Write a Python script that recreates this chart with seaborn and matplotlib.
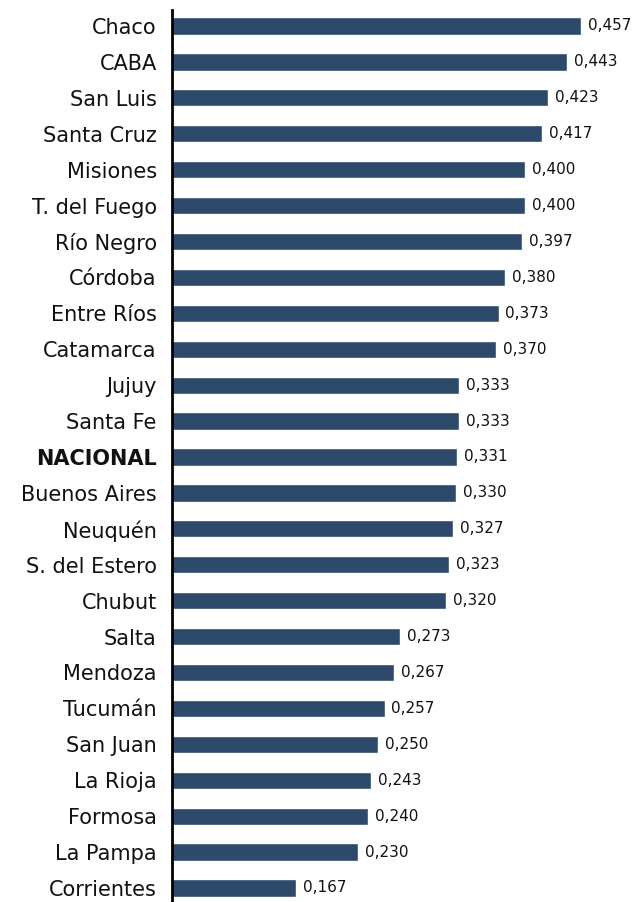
import matplotlib
matplotlib.use("Agg")
import matplotlib.pyplot as plt
import seaborn as sns
import pandas as pd

provincias = ["Chaco", "CABA", "San Luis", "Santa Cruz", "Misiones", "T. del Fuego",
              "Río Negro", "Córdoba", "Entre Ríos", "Catamarca", "Jujuy", "Santa Fe",
              "NACIONAL", "Buenos Aires", "Neuquén", "S. del Estero", "Chubut", "Salta",
              "Mendoza", "Tucumán", "San Juan", "La Rioja", "Formosa", "La Pampa", "Corrientes"]
valores = [0.457, 0.443, 0.423, 0.417, 0.400, 0.400, 0.397, 0.380, 0.373, 0.370,
           0.333, 0.333, 0.331, 0.330, 0.327, 0.323, 0.320, 0.273, 0.267, 0.257,
           0.250, 0.243, 0.240, 0.230, 0.167]
etiquetas = ["0,457", "0,443", "0,423", "0,417", "0,400", "0,400", "0,397", "0,380",
             "0,373", "0,370", "0,333", "0,333", "0,331", "0,330", "0,327", "0,323",
             "0,320", "0,273", "0,267", "0,257", "0,250", "0,243", "0,240", "0,230", "0,167"]

df = pd.DataFrame({"provincia": provincias, "valor": valores})

sns.set_style("white")
plt.rcParams["font.family"] = ["DejaVu Sans"]

W, H = 636, 902
fig = plt.figure(figsize=(W / 100, H / 100), dpi=100)
ax = fig.add_axes([172 / W, 0, 1 - 172 / W, 1])

color = "#2e4a6b"
sns.barplot(data=df, x="valor", y="provincia", orient="h", color=color,
            width=0.48, ax=ax, saturation=1)

step = (888 - 26) / 24
ax.set_ylim(24 + (902 - 888) / step, -26 / step)
ax.set_xlim((172 - 132) / 982.8, (636 - 132) / 982.8)

for i, (v, t) in enumerate(zip(valores, etiquetas)):
    ax.text(v + 0.007, i, t, va="center", ha="left", fontsize=11, color="#111111")

ax.set_xlabel("")
ax.set_ylabel("")
ax.set_xticks([])
ax.tick_params(axis="y", length=0, pad=11)
ax.set_yticks(range(len(provincias)))
ax.set_yticklabels(provincias, fontsize=15, color="#111111")
for lab in ax.get_yticklabels():
    if lab.get_text() == "NACIONAL":
        lab.set_fontweight("bold")

for s in ["top", "right", "bottom"]:
    ax.spines[s].set_visible(False)
ax.spines["left"].set_color("black")
ax.spines["left"].set_linewidth(2)
ax.spines["left"].set_bounds(24 + (902 - 888) / step, -0.45)

fig.savefig("out.png", dpi=100)
